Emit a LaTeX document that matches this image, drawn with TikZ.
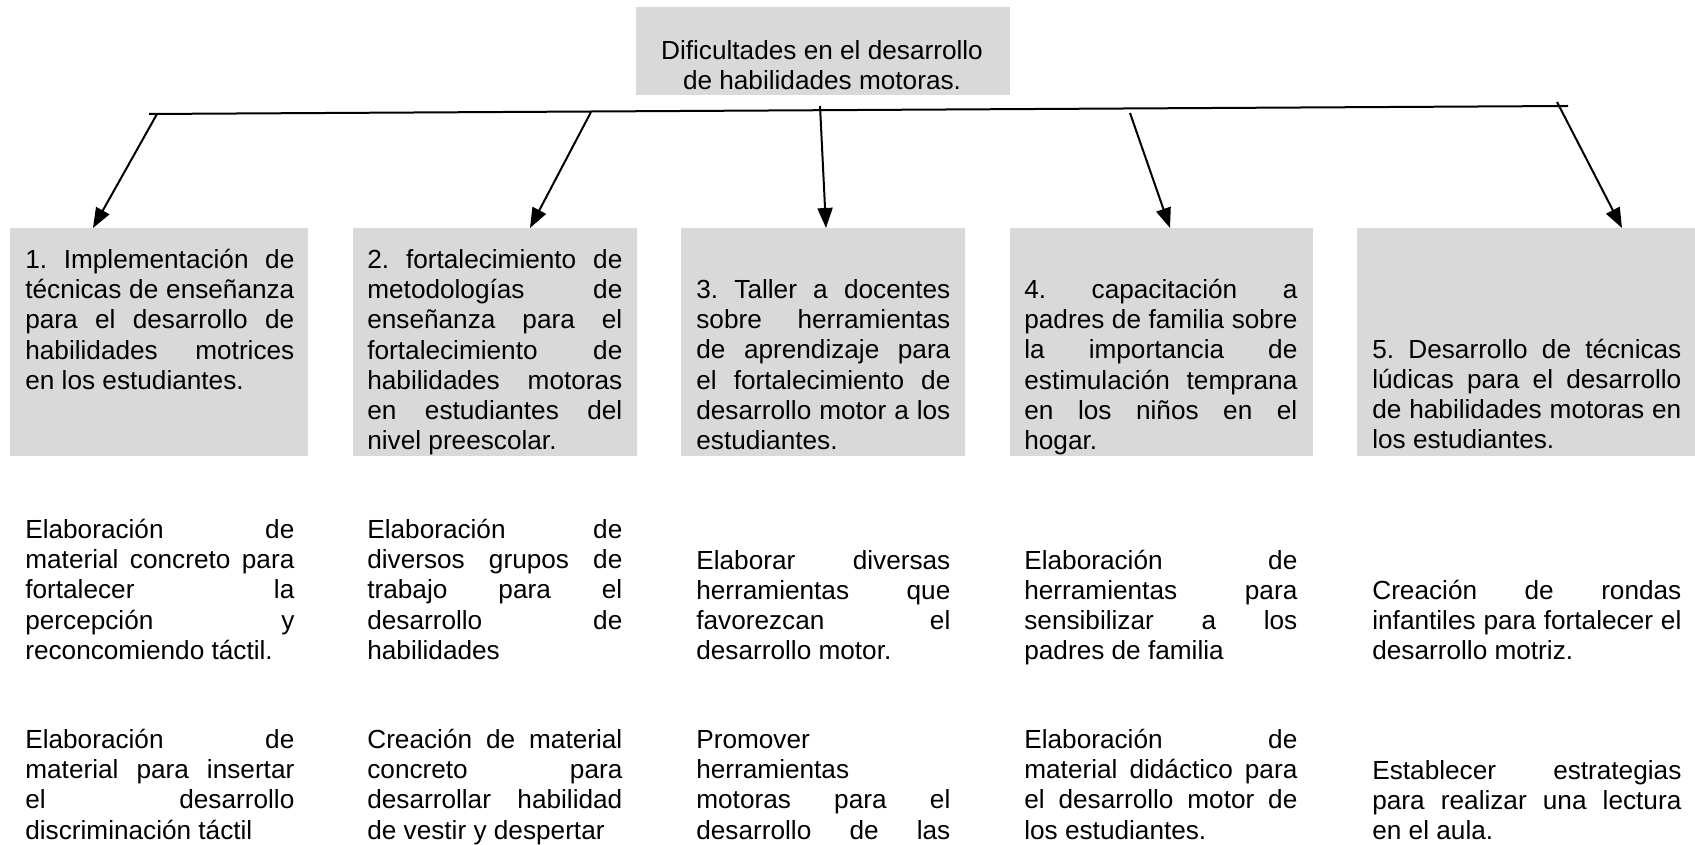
\documentclass[tikz,border=0pt]{standalone}
\usepackage{fontspec}
\setmainfont{Liberation Sans}
\usetikzlibrary{arrows.meta}
\definecolor{gris}{RGB}{217,217,217}
\tolerance=10000
\hbadness=10000
\hyphenpenalty=10000
\frenchspacing
\tikzset{
 caja/.style={fill=gris,inner sep=0,anchor=north west},
 texto/.style={inner sep=0,anchor=north west,align=justify,font=\fontsize{14.9pt}{17.2pt}\selectfont\frenchspacing,execute at begin node=\strut},
 linea/.style={line width=0.04cm},
 flecha/.style={-{Triangle[length=0.4cm,width=0.3cm]},line width=0.04cm},
}
\begin{document}
\begin{tikzpicture}
\useasboundingbox (0,0) rectangle (33.9,-16.9);
%titulo
\node[caja,minimum width=7.48cm,minimum height=1.76cm] (titulo) at (12.72,-0.14) {};
\node[texto,align=center,anchor=north] (titulotxt) at (16.44,-0.80) {Dificultades en el desarrollo\\de habilidades motoras.};
%cajas
\node[caja,minimum width=5.96cm,minimum height=4.56cm] (caja1) at (0.20,-4.56) {};
\node[caja,minimum width=5.68cm,minimum height=4.56cm] (caja2) at (7.06,-4.56) {};
\node[caja,minimum width=5.68cm,minimum height=4.56cm] (caja3) at (13.62,-4.56) {};
\node[caja,minimum width=6.06cm,minimum height=4.56cm] (caja4) at (20.20,-4.56) {};
\node[caja,minimum width=6.76cm,minimum height=4.56cm] (caja5) at (27.14,-4.56) {};
%linea
\coordinate (izq) at (2.98,-2.28);
\coordinate (der) at (31.36,-2.12);
\draw[linea] (izq)--(der);
%flechas
\coordinate (p1) at (3.14,-2.28);
\coordinate (p2) at (11.82,-2.24);
\coordinate (p3) at (16.40,-2.12);
\coordinate (p4) at (22.60,-2.26);
\coordinate (p5) at (31.14,-2.04);
\draw[flecha] (p1)--([xshift=1.66cm]caja1.north west);
\draw[flecha] (p2)--([xshift=3.54cm]caja2.north west);
\draw[flecha] (p3)--([xshift=2.90cm]caja3.north west);
\draw[flecha] (p4)--([xshift=3.20cm]caja4.north west);
\draw[flecha] (p5)--([xshift=5.30cm]caja5.north west);
%textos cajas
\node[texto,text width=5.38cm] (t1) at (0.50,-4.94) {1. Implementación de\linebreak técnicas de enseñanza\linebreak para el desarrollo de\linebreak habilidades motrices\linebreak en los estudiantes.};
\node[texto,text width=5.10cm] (t2) at (7.34,-4.94) {2. fortalecimiento de\linebreak metodologías de\linebreak enseñanza para el\linebreak fortalecimiento de\linebreak habilidades motoras\linebreak en estudiantes del\linebreak nivel preescolar.};
\node[texto,text width=5.08cm] (t3) at (13.92,-5.54) {3. Taller a docentes\linebreak sobre herramientas\linebreak de aprendizaje para\linebreak el fortalecimiento de\linebreak desarrollo motor a los\linebreak estudiantes.};
\node[texto,text width=5.46cm] (t4) at (20.48,-5.54) {4. capacitación a\linebreak padres de familia sobre\linebreak la importancia de\linebreak estimulación temprana\linebreak en los niños en el\linebreak hogar.};
\node[texto,text width=6.18cm] (t5) at (27.44,-6.73) {5. Desarrollo de técnicas\linebreak lúdicas para el desarrollo\linebreak de habilidades motoras en\linebreak los estudiantes.};
%fila 1
\node[texto,text width=5.38cm] (a1) at (0.50,-10.34) {Elaboración de\linebreak material concreto para\linebreak fortalecer la\linebreak percepción y\linebreak reconcomiendo táctil.};
\node[texto,text width=5.10cm] (a2) at (7.34,-10.34) {Elaboración de\linebreak diversos grupos de\linebreak trabajo para el\linebreak desarrollo de\linebreak habilidades};
\node[texto,text width=5.08cm] (a3) at (13.92,-10.95) {Elaborar diversas\linebreak herramientas que\linebreak favorezcan el\linebreak desarrollo motor.};
\node[texto,text width=5.46cm] (a4) at (20.48,-10.95) {Elaboración de\linebreak herramientas para\linebreak sensibilizar a los\linebreak padres de familia};
\node[texto,text width=6.18cm] (a5) at (27.44,-11.55) {Creación de rondas\linebreak infantiles para fortalecer el\linebreak desarrollo motriz.};
%fila 2
\node[texto,text width=5.38cm] (b1) at (0.50,-14.54) {Elaboración de\linebreak material para insertar\linebreak el desarrollo\linebreak discriminación táctil};
\node[texto,text width=5.10cm] (b2) at (7.34,-14.54) {Creación de material\linebreak concreto para\linebreak desarrollar habilidad\linebreak de vestir y despertar};
\node[texto,text width=5.08cm] (b3) at (13.92,-14.54) {Promover\linebreak herramientas\linebreak motoras para el\linebreak desarrollo\hfill de\hfill las};
\node[texto,text width=5.46cm] (b4) at (20.48,-14.54) {Elaboración de\linebreak material didáctico para\linebreak el desarrollo motor de\linebreak los estudiantes.};
\node[texto,text width=6.18cm] (b5) at (27.44,-15.15) {Establecer estrategias\linebreak para realizar una lectura\linebreak en el aula.};
\end{tikzpicture}
\end{document}
